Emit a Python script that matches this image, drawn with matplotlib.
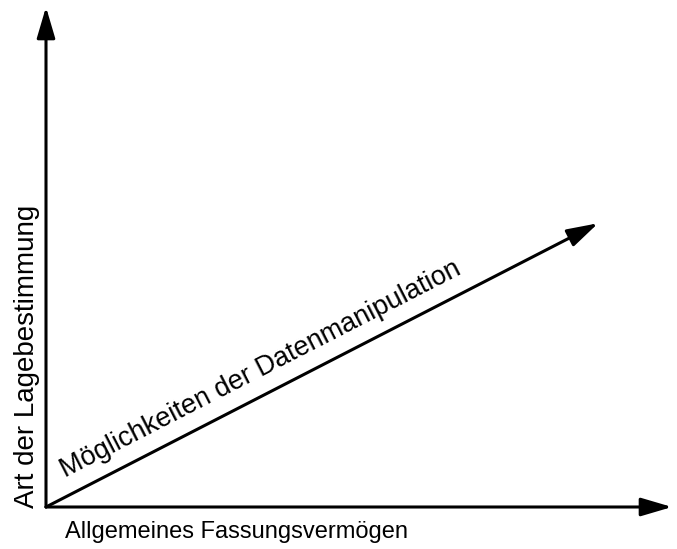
import matplotlib
matplotlib.use("Agg")
import matplotlib.pyplot as plt
import numpy as np

# Diagram data (data units; equal scale on both axes)
origin = (0.0, 0.0)
x_axis_end = (10.0, 0.0)
y_axis_end = (0.0, 8.0)
diag_end = (8.82, 4.54)

x_label = "Allgemeines Fassungsvermögen"
y_label = "Art der Lagebestimmung"
diag_label = "Möglichkeiten der Datenmanipulation"

plt.rcParams['font.family'] = ['Liberation Sans', 'DejaVu Sans']

fig = plt.figure(figsize=(6.77, 5.49), dpi=100)
ax = fig.add_axes([46/677, 42/549, 626/677, 500/549])
ax.set_xlim(0, 10)
ax.set_ylim(0, 8)
ax.axis('off')

arrow_kw = dict(arrowstyle="-|>,head_length=0.95,head_width=0.28",
                color="black", lw=2.2, shrinkA=0, shrinkB=0,
                mutation_scale=20, clip_on=False, joinstyle='round')
for end in (x_axis_end, y_axis_end, diag_end):
    ax.annotate("", xy=end, xytext=origin, arrowprops=arrow_kw,
                annotation_clip=False)

# angle of diagonal in display space
p0 = ax.transData.transform(origin)
p1 = ax.transData.transform(diag_end)
ang = np.degrees(np.arctan2(p1[1] - p0[1], p1[0] - p0[0]))

ax.text(0.30, 0.47, diag_label, rotation=ang, rotation_mode='anchor',
        ha='left', va='baseline', fontsize=19.5, transform=ax.transData)

fig.text(65/677, 1 - 538/549, x_label, ha='left', va='baseline', fontsize=17)
fig.text(14/677, 1 - 356/549, y_label, ha='left', va='center', rotation=90,
         fontsize=20)

fig.savefig("out.png", dpi=100, facecolor="white")
